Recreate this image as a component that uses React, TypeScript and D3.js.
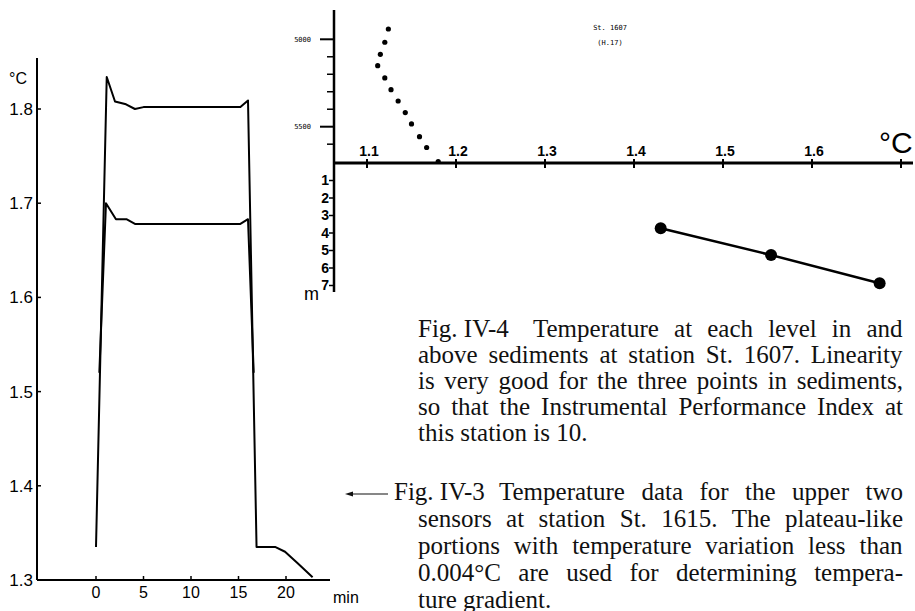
import React, { useEffect, useRef } from "react";
import * as d3 from "d3";

// Fig. IV-3 : St. 1615, upper two sensors (temperature vs time)
const upperTime = [0, 1.13, 2.0, 3.16, 4.1, 5.0, 15.2, 16.0, 16.9, 18.9, 19.9, 21.2, 22.8];
const upperTemp = [1.335, 1.834, 1.808, 1.805, 1.8, 1.802, 1.802, 1.809, 1.335, 1.335, 1.33, 1.318, 1.303];
const lowerTime = [0.35, 1.05, 2.1, 3.2, 4.1, 15.2, 16.0, 16.6];
const lowerTemp = [1.52, 1.7, 1.683, 1.683, 1.678, 1.678, 1.683, 1.52];
const tempTicks = [1.3, 1.4, 1.5, 1.6, 1.7, 1.8];
const timeTicks = [0, 5, 10, 15, 20];

// Fig. IV-4 : St. 1607 (temperature vs depth)
const waterDepth = [4941, 5017, 5086, 5151, 5221, 5288, 5353, 5419, 5484, 5557, 5619, 5699];
const waterTemp = [1.124, 1.12, 1.115, 1.112, 1.12, 1.127, 1.135, 1.143, 1.15, 1.159, 1.167, 1.18];
const sedDepth = [3.73, 5.26, 6.87];
const sedTemp = [1.43, 1.554, 1.676];
const profTicks = [1.1, 1.2, 1.3, 1.4, 1.5, 1.6, 1.7];
const profLabels = ["1.1", "1.2", "1.3", "1.4", "1.5", "1.6", ""];
const depthTicks = [5000, 5100, 5200, 5300, 5400, 5500, 5600];
const depthLabels = [5000, 5500];
const sedTicks = [1, 2, 3, 4, 5, 6, 7];

const caption4 = [
  "above sediments at station St. 1607. Linearity",
  "is very good for the three points in sediments,",
  "so that the Instrumental Performance Index at",
];
const caption3 = [
  "sensors at station St. 1615. The plateau-like",
  "portions with temperature variation less than",
  "0.004\u00b0C are used for determining tempera-",
];

const sans = "'Liberation Sans Narrow', 'Liberation Sans', Arial, sans-serif";
const serif = "'Liberation Serif', 'Times New Roman', serif";

export default function App() {
  const capRef = useRef<SVGGElement>(null);

  // justify caption lines by stretching the spaces between words
  useEffect(() => {
    const justify = () => {
      const g = capRef.current;
      if (!g) return;
      g.querySelectorAll("text[data-w]").forEach((node) => {
        const el = node as SVGTextElement;
        el.style.wordSpacing = "0px";
        const nat = el.getBBox().width;
        const gaps = (el.textContent || "").split(" ").length - 1;
        const w = +(el.getAttribute("data-w") || 0);
        if (gaps > 0 && w > nat) el.style.wordSpacing = `${(w - nat) / gaps}px`;
      });
    };
    justify();
    if ((document as any).fonts) (document as any).fonts.ready.then(justify);
  }, []);

  // left chart
  const x = d3.scaleLinear().domain([0, 20]).range([96, 286]);
  const y = d3.scaleLinear().domain([1.3, 1.8]).range([580, 109]);
  const line = d3.line<number>();
  const upperPath = line(upperTime.map((t, i) => [x(t), y(upperTemp[i])]) as any);
  const lowerPath = line(lowerTime.map((t, i) => [x(t), y(lowerTemp[i])]) as any);

  // right chart
  const tx = d3.scaleLinear().domain([1.1, 1.6]).range([367, 812]);
  const dy = d3.scaleLinear().domain([5000, 5500]).range([39.3, 126.7]);
  const sy = d3.scaleLinear().domain([0, 7]).range([163, 285.5]);
  const sedPath = line(sedTemp.map((t, i) => [tx(t), sy(sedDepth[i])]) as any);

  const capX = 418;
  const capR = 903;
  const fig3X = 394;

  return (
    <svg width={915} height={611} style={{ position: "absolute", left: 0, top: 0, background: "#fff" }}>
      {/* ---------- Fig. IV-3 chart ---------- */}
      <g>
        <line x1={37} y1={58} x2={37} y2={580} stroke="#000" strokeWidth={2} />
        <line x1={37} y1={580} x2={330} y2={580} stroke="#000" strokeWidth={2} />
        {tempTicks.map((t) => (
          <g key={t}>
            <line x1={37} x2={41} y1={y(t)} y2={y(t)} stroke="#000" strokeWidth={1.5} />
            <text x={33} y={y(t)} dy="0.35em" textAnchor="end" fontFamily={sans} fontSize={17}>
              {t.toFixed(1)}
            </text>
          </g>
        ))}
        <text x={9} y={84} fontFamily={sans} fontSize={16}>°C</text>
        {timeTicks.map((t) => (
          <g key={t}>
            <line x1={x(t)} x2={x(t)} y1={580} y2={576} stroke="#000" strokeWidth={1.5} />
            <text x={x(t)} y={598} textAnchor="middle" fontFamily={sans} fontSize={16}>
              {t}
            </text>
          </g>
        ))}
        <text x={333} y={603} fontFamily={sans} fontSize={16}>min</text>
        <path d={upperPath || ""} fill="none" stroke="#000" strokeWidth={2} strokeLinejoin="round" />
        <path d={lowerPath || ""} fill="none" stroke="#000" strokeWidth={2} strokeLinejoin="round" />
      </g>

      {/* ---------- Fig. IV-4 chart ---------- */}
      <g>
        <line x1={334} y1={10} x2={334} y2={292} stroke="#000" strokeWidth={2.5} />
        <line x1={333} y1={163} x2={913} y2={163} stroke="#000" strokeWidth={3} />
        {profTicks.map((t, i) => (
          <g key={t}>
            <line x1={tx(t)} x2={tx(t)} y1={159} y2={168} stroke="#000" strokeWidth={2} />
            <text x={tx(t) + 2} y={156} textAnchor="middle" fontFamily={sans} fontWeight="bold" fontSize={14}>
              {profLabels[i]}
            </text>
          </g>
        ))}
        <text x={879} y={153} fontFamily={sans} fontSize={30}>°C</text>
        {depthTicks.map((d) => (
          <line
            key={d}
            x1={depthLabels.includes(d) ? 320 : 327}
            x2={334}
            y1={dy(d)}
            y2={dy(d)}
            stroke="#000"
            strokeWidth={depthLabels.includes(d) ? 2 : 1.5}
          />
        ))}
        {depthLabels.map((d) => (
          <text key={d} x={311} y={dy(d)} dy="0.35em" textAnchor="end" fontFamily="'DejaVu Sans Mono', monospace" fontSize={7}>
            {d}
          </text>
        ))}
        {sedTicks.map((m) => (
          <g key={m}>
            <line x1={329} x2={334} y1={sy(m)} y2={sy(m)} stroke="#000" strokeWidth={1.5} />
            <text x={329} y={sy(m)} dy="0.35em" textAnchor="end" fontFamily={sans} fontWeight="bold" fontSize={14}>
              {m}
            </text>
          </g>
        ))}
        <text x={304} y={300} fontFamily={sans} fontSize={18}>m</text>
        <text x={610} y={30} textAnchor="middle" fontFamily="'DejaVu Sans Mono', monospace" fontSize={7}>St. 1607</text>
        <text x={610} y={45} textAnchor="middle" fontFamily="'DejaVu Sans Mono', monospace" fontSize={7}>(H.17)</text>
        {waterDepth.map((d, i) => (
          <circle key={d} cx={tx(waterTemp[i])} cy={dy(d)} r={2.6} fill="#000" />
        ))}
        <path d={sedPath || ""} fill="none" stroke="#000" strokeWidth={2.5} />
        {sedDepth.map((d, i) => (
          <circle key={d} cx={tx(sedTemp[i])} cy={sy(d)} r={6} fill="#000" />
        ))}
      </g>

      {/* ---------- captions ---------- */}
      <g ref={capRef} fontFamily={serif} fontSize={25} fill="#111">
        <text x={capX} y={337}>Fig. IV-4</text>
        <text x={533} y={337} data-w={capR - 533}>Temperature at each level in and</text>
        {caption4.map((s, i) => (
          <text key={s} x={capX} y={363 + i * 26} data-w={capR - capX}>
            {s}
          </text>
        ))}
        <text x={capX} y={441}>this station is 10.</text>

        <line x1={350} y1={494} x2={388} y2={494} stroke="#111" strokeWidth={1.2} />
        <path d="M345,494 L353,491.5 L353,496.5 Z" fill="#111" />
        <text x={fig3X} y={500}>Fig. IV-3</text>
        <text x={499} y={500} data-w={capR - 499}>Temperature data for the upper two</text>
        {caption3.map((s, i) => (
          <text key={s} x={capX} y={527 + i * 27} data-w={capR - capX}>
            {s}
          </text>
        ))}
        <text x={capX} y={608}>ture gradient.</text>
      </g>
    </svg>
  );
}
